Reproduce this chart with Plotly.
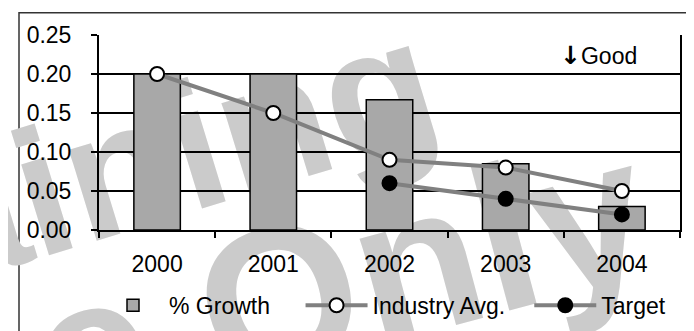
import plotly.graph_objects as go

# chart data
years = ["2000", "2001", "2002", "2003", "2004"]
growth = [0.20, 0.20, 0.167, 0.085, 0.03]
industry_avg = [0.20, 0.15, 0.09, 0.08, 0.05]
target = [None, None, 0.06, 0.04, 0.02]

# watermark words
wm_top = "Training"
wm_bottom = "Use Only"

W, H = 694, 331
L, R, T, B = 91, 672, 27, 229
FONT = "Liberation Sans, Arial, sans-serif"
NB = "\u00a0"

fig = go.Figure()

# watermark lives on the first subplot so the chart subplot draws over it
# (pixel-like coordinates, y measured upward from the bottom of the page)
def wm_style(size, angle):
    return dict(
        textposition="inside", insidetextanchor="middle", textangle=angle,
        constraintext="none", cliponaxis=False,
        textfont=dict(family="Liberation Sans, Arial, sans-serif", size=size,
                      color="#cbcbcb", weight="bold"),
        marker=dict(color="rgba(0,0,0,0)", line=dict(width=0)),
        hoverinfo="skip", showlegend=False, xaxis="x", yaxis="y",
    )

half = 120
# horizontal bar: its centre row is on screen even though the word centre is left of the plot
fig.add_trace(go.Bar(
    y=[H - 173], x=[2 * half], base=[87 - half], width=[2], orientation="h",
    text=[wm_top], **wm_style(180, -17),
))
fig.add_trace(go.Bar(
    x=[205], y=[2 * half], base=[(H - 318) - half], width=[2],
    text=[wm_bottom], **wm_style(205, -15),
))

fig.add_trace(go.Bar(
    x=years, y=growth, name="% Growth" + NB * 4, width=0.4,
    marker=dict(color="#a8a8a8", line=dict(color="black", width=1.5)),
    xaxis="x2", yaxis="y2",
))
fig.add_trace(go.Scatter(
    x=years, y=industry_avg, name="Industry Avg." + NB * 3, mode="lines+markers",
    line=dict(color="#808080", width=4),
    marker=dict(size=14, color="white", line=dict(color="black", width=2)),
    xaxis="x2", yaxis="y2",
))
fig.add_trace(go.Scatter(
    x=years, y=target, name="Target", mode="lines+markers",
    line=dict(color="#808080", width=4),
    marker=dict(size=14, color="black", line=dict(color="black", width=2)),
    xaxis="x2", yaxis="y2",
))

fig.update_layout(
    width=W, height=H,
    margin=dict(l=L, r=W - R, t=T, b=H - B, pad=0),
    paper_bgcolor="white", plot_bgcolor="rgba(0,0,0,0)",
    font=dict(family=FONT, size=23, color="black"),
    barmode="overlay",
    xaxis=dict(domain=[0, 1], range=[L, R], visible=False, fixedrange=True),
    yaxis=dict(domain=[0, 1], range=[H - B, H - T], visible=False, fixedrange=True),
    xaxis2=dict(
        domain=[0, 1], anchor="y2", type="category", automargin=False,
        showline=True, linecolor="black", linewidth=2,
        ticks="outside", tickson="boundaries", ticklen=6, tickwidth=2, tickcolor="black",
        showgrid=False, ticklabelstandoff=12,
    ),
    yaxis2=dict(
        domain=[0, 1], anchor="x2", range=[0, 0.25], dtick=0.05, tickformat=".2f",
        automargin=False,
        showline=True, linecolor="black", linewidth=2, mirror=True,
        ticks="outside", ticklen=6, tickwidth=2, tickcolor="black",
        showgrid=True, gridcolor="black", gridwidth=2, zeroline=False,
        ticklabelstandoff=15,
    ),
    legend=dict(
        orientation="h", x=(89 - L) / (R - L), xanchor="left",
        y=(B - 307) / (B - T), yanchor="middle",
        font=dict(size=23), bgcolor="rgba(0,0,0,0)", itemwidth=62,
    ),
    annotations=[dict(
        text='<span style="font-family:DejaVu Sans;font-weight:bold;font-size:25px">↓</span>Good',
        xref="paper", yref="paper",
        x=(550 - L) / (R - L), y=(B - 48) / (B - T), xanchor="left", yanchor="middle",
        showarrow=False, font=dict(size=23, color="black"),
    )],
    shapes=[dict(
        type="rect", xref="paper", yref="paper",
        x0=(11 - L) / (R - L), x1=(683 - L) / (R - L),
        y0=(B - 340) / (B - T), y1=(B - 4) / (B - T),
        line=dict(color="#333333", width=1.5), fillcolor="rgba(0,0,0,0)", layer="below",
    )],
)

fig.write_html("out.html")
